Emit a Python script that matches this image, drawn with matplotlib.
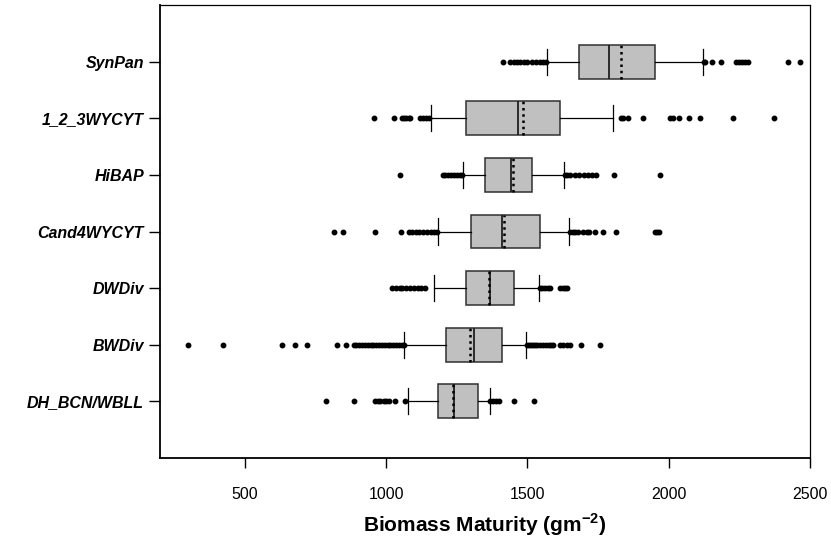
import matplotlib
matplotlib.use('Agg')
import matplotlib.pyplot as plt

plt.rcParams['font.family'] = ['Liberation Sans', 'DejaVu Sans']
plt.rcParams['mathtext.fontset'] = 'custom'
plt.rcParams['mathtext.bf'] = 'Liberation Sans:bold'
plt.rcParams['mathtext.rm'] = 'Liberation Sans'

# 数据：从下到上
labels = ['DH_BCN/WBLL', 'BWDiv', 'DWDiv', 'Cand4WYCYT', 'HiBAP', '1_2_3WYCYT', 'SynPan']
q1 = [1183, 1213, 1284, 1302, 1349, 1281, 1684]
med = [1239, 1310, 1367, 1410, 1443, 1466, 1790]
q3 = [1324, 1411, 1452, 1544, 1517, 1614, 1950]
means = [1235, 1296, 1363, 1416, 1448, 1484, 1830]
whislo = [1077, 1065, 1171, 1184, 1271, 1160, 1571]
whishi = [1366, 1496, 1540, 1647, 1629, 1803, 2120]

fliers_dh = [789, 888, 962, 970, 980, 992, 1000, 1009, 1033, 1068,
             1368, 1378, 1388, 1398, 1454, 1522]
fliers_bw = [298, 422, 632, 679, 720, 827, 858, 885, 895, 905, 915, 925, 935,
             945, 955, 965, 975, 985, 995, 1005, 1015, 1025, 1035, 1045, 1055,
             1062, 1498, 1505, 1512, 1520, 1528, 1535, 1545, 1555, 1565, 1575,
             1585, 1592, 1617, 1625, 1640, 1652, 1691, 1756]
fliers_dw = [1021, 1035, 1048, 1058, 1072, 1085, 1098, 1112, 1125, 1139,
             1543, 1552, 1562, 1572, 1581, 1617, 1625, 1633, 1641]
fliers_cand = [816, 846, 962, 1053, 1080, 1092, 1105, 1118, 1130, 1145, 1158,
               1170, 1180, 1650, 1660, 1670, 1680, 1695, 1710, 1717, 1740,
               1768, 1815, 1953, 1958, 1964]
fliers_hibap = [1048, 1203, 1210, 1220, 1230, 1240, 1250, 1260, 1268, 1632,
                1640, 1650, 1668, 1683, 1700, 1715, 1730, 1743, 1808, 1968]
fliers_123 = [957, 1029, 1057, 1065, 1072, 1080, 1086, 1121, 1130, 1140, 1151,
              1830, 1840, 1855, 1908, 2003, 2015, 2035, 2073, 2109, 2229, 2374]
fliers_syn = [1415, 1440, 1452, 1462, 1475, 1487, 1500, 1515, 1530, 1543,
              1555, 1565, 2125, 2130, 2152, 2186, 2238, 2248, 2258, 2270,
              2280, 2423, 2463]
fliers = [fliers_dh, fliers_bw, fliers_dw, fliers_cand, fliers_hibap,
          fliers_123, fliers_syn]

stats = []
for i in range(len(labels)):
    stats.append(dict(label=labels[i], q1=q1[i], med=med[i], q3=q3[i],
                      mean=means[i], whislo=whislo[i], whishi=whishi[i],
                      fliers=fliers[i]))

fig = plt.figure(figsize=(8.31, 5.41), dpi=100)
ax = fig.add_axes([160 / 831, 1 - 458 / 541, 650 / 831, 453 / 541])

positions = list(range(1, len(labels) + 1))
ax.bxp(stats, positions=positions, orientation='horizontal', widths=0.6,
       capwidths=0.46, patch_artist=True, showmeans=True, meanline=True,
       boxprops=dict(facecolor='#c0c0c0', edgecolor='#303030', linewidth=1.1),
       medianprops=dict(color='#202020', linewidth=1.3),
       meanprops=dict(color='black', linestyle=(0, (1, 1.5)), linewidth=1.8),
       whiskerprops=dict(color='black', linewidth=0.9),
       capprops=dict(color='black', linewidth=0.9),
       flierprops=dict(marker='o', markerfacecolor='black',
                       markeredgecolor='black', markersize=3.2, linestyle='none'))

ax.set_xlim(200, 2500)
ax.set_ylim(0, 8)
ax.set_xticks([500, 1000, 1500, 2000, 2500])
ax.set_yticks(positions)
ax.set_yticklabels(labels, fontsize=11.5, fontweight='bold', fontstyle='italic')
ax.tick_params(axis='x', direction='out', length=7, width=1, pad=14, labelsize=11.5)
ax.tick_params(axis='y', direction='out', length=8, width=1, pad=3.5)
ax.tick_params(axis='x', top=False)
ax.tick_params(axis='y', right=False)

for side in ['left', 'bottom']:
    ax.spines[side].set_linewidth(1.3)
for side in ['top', 'right']:
    ax.spines[side].set_linewidth(0.9)

ax.set_xlabel('Biomass Maturity (gm$^{\\mathbf{-2}}$)', fontsize=15,
              fontweight='bold')
ax.xaxis.set_label_coords(0.5, -0.118)

fig.savefig('out.png', dpi=100)
